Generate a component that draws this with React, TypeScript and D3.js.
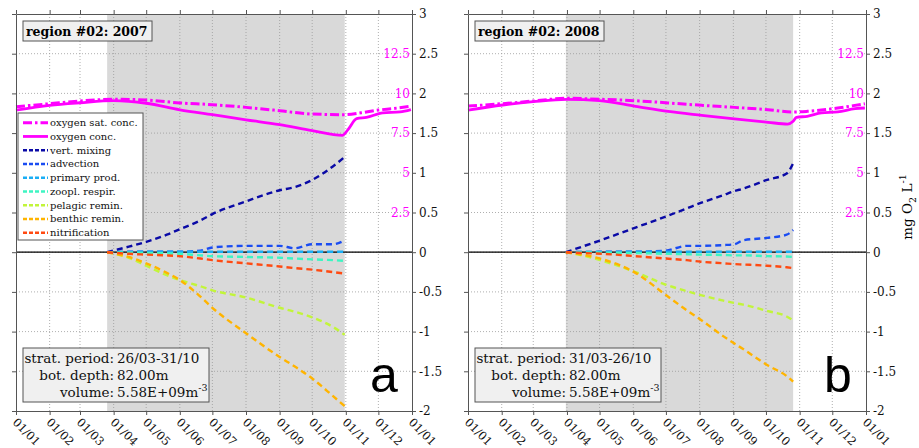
import React, { useEffect, useRef } from "react";
import * as d3 from "d3";

const W = 919;
const H = 448;
const TOP = 14;
const BOTTOM = 411;
const SERIF = "DejaVu Serif";

// axis ticks
const monthLabels = ["01/01", "01/02", "01/03", "01/04", "01/05", "01/06", "01/07", "01/08", "01/09", "01/10", "01/11", "01/12", "01/01"];
const leftTicks = [3, 2.5, 2, 1.5, 1, 0.5, 0, -0.5, -1, -1.5, -2];
const o2Ticks = [2.5, 5, 7.5, 10, 12.5];

const legendLabels = ["oxygen sat. conc.", "oxygen conc.", "vert. mixing", "advection", "primary prod.", "zoopl. respir.", "pelagic remin.", "benthic remin.", "nitrification"];
const procColors = ["#0a0aa6", "#1a4cf2", "#1aaef5", "#3ef5c2", "#c2f53a", "#ffb400", "#ff4a12"];
const O2_COLOR = "#ff00ff";

// ---- 2007 (panel a), oxygen in mg/L
const satDatesA = ["01-01", "02-01", "03-01", "04-01", "05-01", "06-01", "07-01", "08-01", "09-01", "10-01", "10-31", "11-15", "12-01", "12-15", "12-31"];
const satA = [9.16, 9.35, 9.52, 9.63, 9.58, 9.4, 9.29, 9.12, 8.91, 8.7, 8.66, 8.78, 8.95, 9.05, 9.19];
const concDatesA = ["01-01", "02-01", "03-01", "04-01", "05-01", "06-01", "07-01", "08-01", "09-01", "10-01", "10-29", "11-03", "11-11", "11-20", "12-05", "12-21", "12-31"];
const concA = [8.95, 9.25, 9.41, 9.54, 9.38, 8.97, 8.66, 8.34, 8.03, 7.65, 7.36, 7.72, 8.41, 8.49, 8.77, 8.83, 8.98];

// processes (cumulative, mg O2/L), left axis
const procDatesA = ["03-26", "04-15", "05-01", "05-20", "06-01", "06-20", "07-01", "08-01", "09-01", "09-15", "10-01", "10-20", "10-31"];
const vertMixA = [0, 0.07, 0.13, 0.22, 0.29, 0.4, 0.48, 0.64, 0.78, 0.82, 0.91, 1.08, 1.2];
const advA = [0, 0.005, 0.005, 0.005, 0.005, 0.02, 0.06, 0.08, 0.08, 0.05, 0.1, 0.1, 0.15];
const primA = [0, 0.004, 0.005, 0.005, 0.005, 0.005, 0.005, 0.005, 0.005, 0.005, 0.005, 0.005, 0.005];
const zoopA = [0, -0.005, -0.01, -0.015, -0.02, -0.04, -0.05, -0.06, -0.07, -0.08, -0.09, -0.1, -0.11];
const pelA = [0, -0.07, -0.17, -0.29, -0.35, -0.43, -0.48, -0.57, -0.7, -0.75, -0.82, -0.94, -1.04];
const benA = [0, -0.06, -0.14, -0.26, -0.35, -0.56, -0.7, -1.02, -1.32, -1.44, -1.59, -1.81, -1.94];
const nitA = [0, -0.02, -0.03, -0.04, -0.05, -0.08, -0.1, -0.14, -0.18, -0.2, -0.22, -0.25, -0.27];

// ---- 2008 (panel b)
const satDatesB = ["01-01", "02-01", "03-01", "04-01", "05-01", "06-03", "07-03", "08-03", "09-02", "10-03", "10-26", "11-08", "12-06", "12-31"];
const satB = [9.2, 9.35, 9.52, 9.69, 9.63, 9.54, 9.4, 9.25, 9.12, 8.97, 8.83, 8.87, 9.08, 9.35];
const concDatesB = ["01-01", "02-02", "03-01", "04-01", "05-01", "06-03", "07-03", "08-03", "09-02", "10-03", "10-21", "10-26", "10-29", "11-08", "11-21", "12-06", "12-22", "12-31"];
const concB = [8.95, 9.27, 9.48, 9.63, 9.54, 9.19, 8.87, 8.62, 8.39, 8.18, 8.07, 8.24, 8.49, 8.56, 8.77, 8.83, 9.04, 9.08];

const procDatesB = ["03-31", "04-15", "05-04", "06-03", "07-01", "07-20", "08-02", "08-23", "09-02", "09-10", "10-02", "10-20", "10-26"];
const vertMixB = [0, 0.07, 0.16, 0.31, 0.45, 0.55, 0.62, 0.72, 0.77, 0.8, 0.91, 0.99, 1.12];
const advB = [0, 0.003, 0.005, 0.005, 0.02, 0.08, 0.08, 0.09, 0.1, 0.15, 0.18, 0.22, 0.28];
const primB = [0, 0.003, 0.004, 0.005, 0.005, 0.005, 0.005, 0.005, 0.005, 0.005, 0.005, 0.005, 0.005];
const zoopB = [0, -0.003, -0.005, -0.01, -0.02, -0.025, -0.03, -0.035, -0.04, -0.04, -0.05, -0.055, -0.06];
const pelB = [0, -0.04, -0.11, -0.25, -0.41, -0.49, -0.54, -0.61, -0.64, -0.66, -0.74, -0.81, -0.86];
const benB = [0, -0.03, -0.09, -0.26, -0.54, -0.73, -0.85, -1.06, -1.15, -1.22, -1.42, -1.56, -1.63];
const nitB = [0, -0.01, -0.02, -0.05, -0.08, -0.1, -0.12, -0.14, -0.15, -0.155, -0.17, -0.19, -0.2];

const panels = [
  {
    year: 2007, left: 16, right: 412, stratStart: "03-26", stratEnd: "10-31",
    title: "region #02: 2007", period: "26/03-31/10", letter: "a", legend: true,
    satDates: satDatesA, sat: satA, concDates: concDatesA, conc: concA,
    procDates: procDatesA, procs: [vertMixA, advA, primA, zoopA, pelA, benA, nitA],
  },
  {
    year: 2008, left: 468, right: 866, stratStart: "03-31", stratEnd: "10-26",
    title: "region #02: 2008", period: "31/03-26/10", letter: "b", legend: false,
    satDates: satDatesB, sat: satB, concDates: concDatesB, conc: concB,
    procDates: procDatesB, procs: [vertMixB, advB, primB, zoopB, pelB, benB, nitB],
  },
];

const parse = d3.timeParse("%Y-%m-%d");

function drawPanel(svg, p) {
  const g = svg.append("g");
  const d = (md) => parse(`${p.year}-${md}`);
  const x = d3.scaleTime().domain([parse(`${p.year}-01-01`), parse(`${p.year + 1}-01-01`)]).range([p.left, p.right]);
  const y = d3.scaleLinear().domain([-2, 3]).range([BOTTOM, TOP]);
  const yO2 = d3.scaleLinear().domain([-10, 15]).range([BOTTOM, TOP]);
  const months = d3.timeMonth.range(x.domain()[0], d3.timeDay.offset(x.domain()[1], 1));

  // stratified period
  g.append("rect")
    .attr("x", x(d(p.stratStart))).attr("y", TOP)
    .attr("width", x(d(p.stratEnd)) - x(d(p.stratStart))).attr("height", BOTTOM - TOP)
    .attr("fill", "#d9d9d9");

  // grid
  g.selectAll(".vg").data(months.slice(1, -1)).join("line")
    .attr("x1", (m) => x(m)).attr("x2", (m) => x(m)).attr("y1", TOP).attr("y2", BOTTOM)
    .attr("stroke", "#9a9a9a").attr("stroke-width", 0.8).attr("stroke-dasharray", "1,2");
  g.selectAll(".hg").data(leftTicks.slice(1, -1)).join("line")
    .attr("x1", p.left).attr("x2", p.right).attr("y1", (v) => y(v)).attr("y2", (v) => y(v))
    .attr("stroke", "#9a9a9a").attr("stroke-width", 0.8).attr("stroke-dasharray", "1,2");

  // zero line
  g.append("line").attr("x1", p.left).attr("x2", p.right).attr("y1", y(0)).attr("y2", y(0))
    .attr("stroke", "#000").attr("stroke-width", 1.2);

  const line = d3.line().curve(d3.curveMonotoneX).x((e) => x(e[0])).y((e) => e[1]);

  // processes
  p.procs.forEach((vals, i) => {
    g.append("path")
      .datum(p.procDates.map((md, j) => [d(md), y(vals[j])]))
      .attr("d", line).attr("fill", "none")
      .attr("stroke", procColors[i]).attr("stroke-width", 2.4).attr("stroke-dasharray", "6,4");
  });
  // draw primary prod last-ish on top of zero line mixing like original
  // oxygen
  g.append("path")
    .datum(p.satDates.map((md, j) => [d(md), yO2(p.sat[j])]))
    .attr("d", line).attr("fill", "none").attr("stroke", O2_COLOR)
    .attr("stroke-width", 3).attr("stroke-dasharray", "9,3,2.5,3");
  g.append("path")
    .datum(p.concDates.map((md, j) => [d(md), yO2(p.conc[j])]))
    .attr("d", line).attr("fill", "none").attr("stroke", O2_COLOR).attr("stroke-width", 2.8);

  // axes (box, outward ticks)
  const styleAxis = (a) => {
    a.select(".domain").attr("stroke", "#555").attr("stroke-width", 1);
    a.selectAll(".tick line").attr("stroke", "#555");
  };
  g.append("g").attr("transform", `translate(0,${BOTTOM})`)
    .call(d3.axisBottom(x).tickValues(months).tickSize(4).tickSizeOuter(0).tickFormat(() => ""))
    .call(styleAxis);
  g.append("g").attr("transform", `translate(0,${TOP})`)
    .call(d3.axisTop(x).tickValues(months).tickSize(4).tickSizeOuter(0).tickFormat(() => ""))
    .call(styleAxis);
  g.append("g").attr("transform", `translate(${p.left},0)`)
    .call(d3.axisLeft(y).tickValues(leftTicks).tickSize(4).tickSizeOuter(0).tickFormat(() => ""))
    .call(styleAxis);
  const ra = g.append("g").attr("transform", `translate(${p.right},0)`)
    .call(d3.axisRight(y).tickValues(leftTicks).tickSize(4).tickSizeOuter(0).tickPadding(3).tickFormat((v) => String(v)))
    .call(styleAxis);
  ra.selectAll("text").attr("font-family", SERIF).attr("font-size", 12).attr("fill", "#111");

  // magenta O2 tick labels
  g.selectAll(".o2t").data(o2Ticks).join("text")
    .attr("x", p.right - 2).attr("y", (v) => yO2(v)).attr("dy", "0.36em")
    .attr("text-anchor", "end").attr("font-family", SERIF).attr("font-size", 12)
    .attr("fill", O2_COLOR).text((v) => String(v));

  // rotated month labels
  g.selectAll(".ml").data(months).join("text")
    .attr("transform", (m) => `translate(${x(m) - 4},423) rotate(45)`)
    .attr("font-family", SERIF).attr("font-size", 11.5).attr("fill", "#111")
    .text((m, i) => monthLabels[i]);

  // title box
  const tx = p.left + 7;
  g.append("rect").attr("x", tx).attr("y", 21).attr("width", 129).attr("height", 20)
    .attr("fill", "#f0f0f0").attr("stroke", "#555");
  g.append("text").attr("x", tx + 3).attr("y", 35.5).attr("font-family", SERIF)
    .attr("font-weight", "bold").attr("font-size", 12.5).attr("fill", "#000").text(p.title);

  // info box
  g.append("rect").attr("x", tx).attr("y", 348).attr("width", 186).attr("height", 54)
    .attr("fill", "#f0f0f0").attr("stroke", "#555");
  const cx = p.left + 98;
  const info = [["strat. period:", p.period], ["bot. depth:", "82.00m"], ["volume:", "5.58E+09m"]];
  info.forEach(([k, v], i) => {
    const by = 363 + i * 17;
    g.append("text").attr("x", cx).attr("y", by).attr("text-anchor", "end")
      .attr("font-family", SERIF).attr("font-size", 13.5).attr("fill", "#111").text(k);
    const t = g.append("text").attr("x", cx + 3).attr("y", by)
      .attr("font-family", SERIF).attr("font-size", 13.5).attr("fill", "#111");
    t.append("tspan").text(v);
    if (i === 2) t.append("tspan").attr("dy", -6).attr("font-size", 9.5).text("-3");
  });

  // panel letter
  g.append("text").attr("x", p.right - 28).attr("y", 392).attr("text-anchor", "middle")
    .attr("font-family", "Liberation Sans").attr("font-size", 50).attr("fill", "#000").text(p.letter);

  // legend
  if (p.legend) {
    const lx = p.left + 2;
    g.append("rect").attr("x", lx).attr("y", 113).attr("width", 125).attr("height", 127)
      .attr("fill", "#fff").attr("stroke", "#555");
    legendLabels.forEach((lab, i) => {
      const ly = 122.7 + i * 13.75;
      const ln = g.append("line").attr("x1", lx + 5).attr("x2", lx + 30).attr("y1", ly).attr("y2", ly);
      if (i === 0) ln.attr("stroke", O2_COLOR).attr("stroke-width", 3).attr("stroke-dasharray", "9,3,2.5,3");
      else if (i === 1) ln.attr("stroke", O2_COLOR).attr("stroke-width", 2.8);
      else ln.attr("stroke", procColors[i - 2]).attr("stroke-width", 2.4).attr("stroke-dasharray", "4,2");
      g.append("text").attr("x", lx + 32).attr("y", ly + 3.5).attr("font-family", SERIF)
        .attr("font-size", 10).attr("fill", "#111").text(lab);
    });
  }
}

const App = () => {
  const svgRef = useRef(null);
  useEffect(() => {
    const svg = d3.select(svgRef.current);
    svg.selectAll("*").remove();
    svg.append("rect").attr("width", W).attr("height", H).attr("fill", "#fff");
    panels.forEach((p) => drawPanel(svg, p));

    // y label
    const yl = svg.append("text").attr("transform", "translate(912,207) rotate(-90)")
      .attr("text-anchor", "middle").attr("font-family", SERIF).attr("font-size", 13.5).attr("fill", "#000");
    yl.append("tspan").text("mg O");
    yl.append("tspan").attr("dy", 4).attr("font-size", 9.5).text("2");
    yl.append("tspan").attr("dy", -4).text(" L");
    yl.append("tspan").attr("dy", -6).attr("font-size", 9.5).text("-1");
  }, []);

  return (
    <div style={{ position: "absolute", left: 0, top: 0 }}>
      <svg ref={svgRef} width={W} height={H} style={{ display: "block" }} />
    </div>
  );
};

export default App;
